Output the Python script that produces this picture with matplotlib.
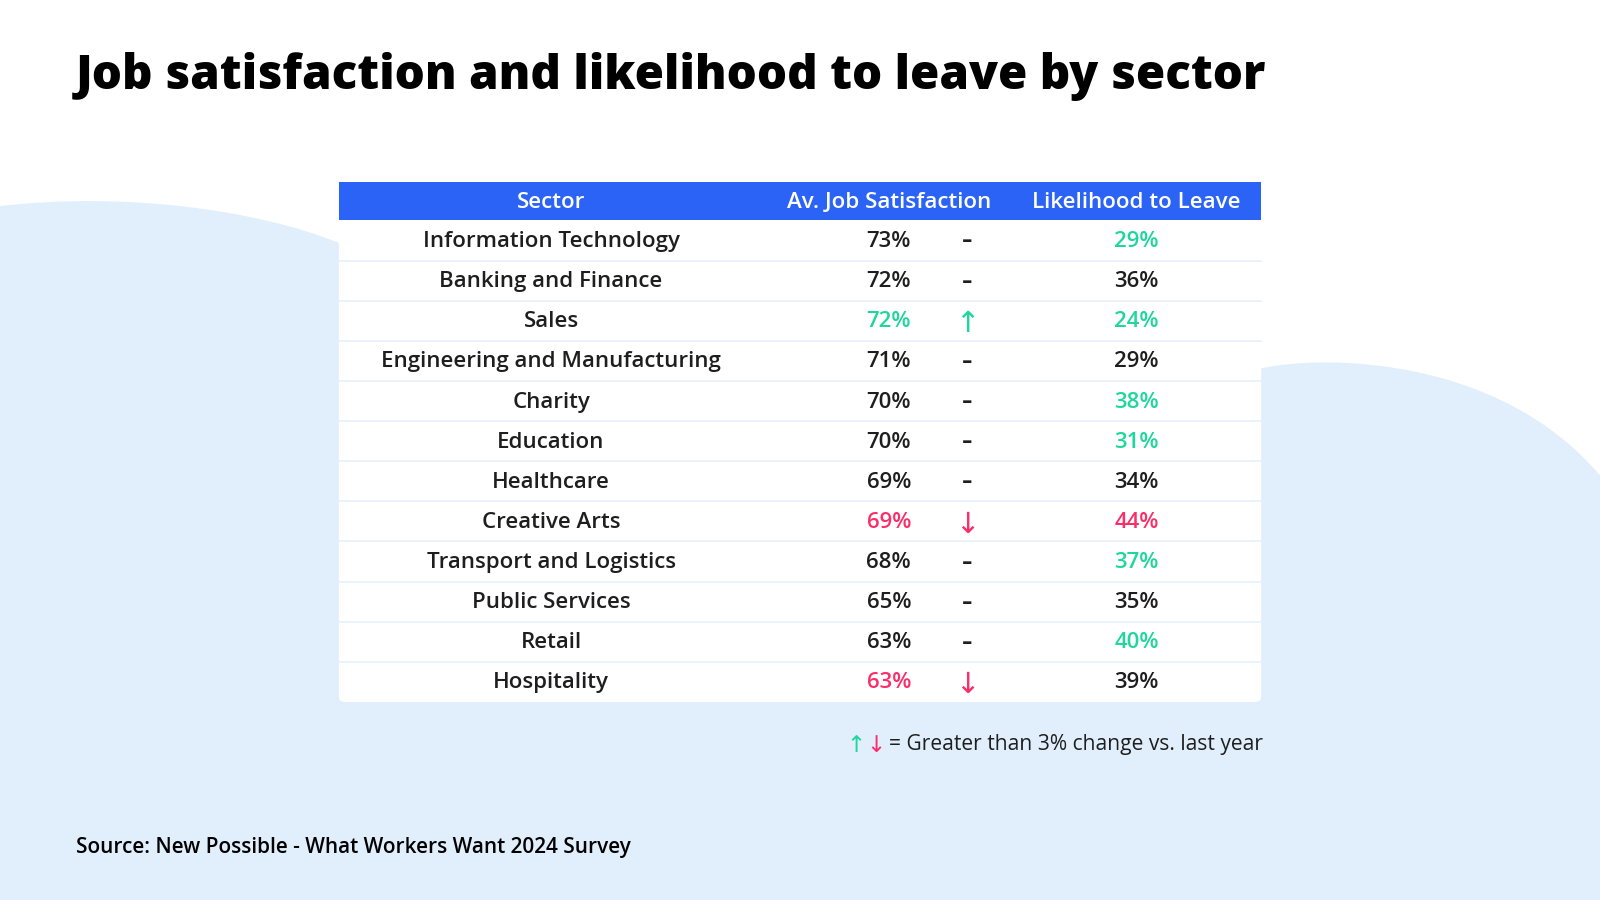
import numpy as np
import matplotlib
matplotlib.use("Agg")
import matplotlib.pyplot as plt
from matplotlib.path import Path
from matplotlib.patches import PathPatch, FancyBboxPatch, Rectangle

plt.rcParams["font.family"] = ["Open Sans", "DejaVu Sans"]

sectors = ["Information Technology", "Banking and Finance", "Sales",
           "Engineering and Manufacturing", "Charity", "Education", "Healthcare",
           "Creative Arts", "Transport and Logistics", "Public Services", "Retail",
           "Hospitality"]
satisfaction = [73, 72, 72, 71, 70, 70, 69, 69, 68, 65, 63, 63]
sat_trend = ["flat", "flat", "up", "flat", "flat", "flat", "flat", "down",
             "flat", "flat", "flat", "down"]
leave = [29, 36, 24, 29, 38, 31, 34, 44, 37, 35, 40, 39]
leave_trend = ["good", "flat", "good", "flat", "good", "good", "flat", "bad",
               "good", "flat", "good", "flat"]
headers = ["Sector", "Av. Job Satisfaction", "Likelihood to Leave"]

BLUE = "#2A63F6"
BG = "#E1EEFC"
GREEN = "#1FD69B"
RED = "#FB2E68"
INK = "#1E1E1E"
SEP = "#E6F0FC"
sat_col = {"up": GREEN, "down": RED, "flat": INK}
leave_col = {"good": GREEN, "bad": RED, "flat": INK}
sign = {"up": "\u2191", "down": "\u2193", "flat": "\u2013"}

W, H = 1568, 882
fig = plt.figure(figsize=(16, 9), dpi=100)
ax = fig.add_axes([0, 0, 1, 1])
ax.set_xlim(0, W); ax.set_ylim(H, 0); ax.axis("off")
rend = fig.canvas.get_renderer()


def scale_for(t, target):
    # factor that brings text t to the target width (in axes units)
    w = t.get_window_extent(rend).width * W / fig.bbox.width
    return target / w


# light blue background blob
verts = [(0, 202),
         (120, 188), (250, 205), (332, 238),      # left hump
         (700, 330),                                # under the table
         (1236, 361),
         (1300, 347), (1470, 350), (W, 466),       # right hump
         (W, H), (0, H), (0, 202)]
codes = ([Path.MOVETO] + [Path.CURVE4] * 3 + [Path.LINETO] * 2
         + [Path.CURVE4] * 3 + [Path.LINETO] * 2 + [Path.CLOSEPOLY])
ax.add_patch(PathPatch(Path(verts, codes), fc=BG, ec="none", zorder=0))

# table geometry
x0, x1 = 332, 1236
hy0, hy1, ty1 = 178, 216, 688
rh = (ty1 - hy1) / len(sectors)
cx_sector, cx_sat, cx_arrow, cx_leave = 540, 871, 948, 1114

ax.add_patch(FancyBboxPatch((x0, hy1), x1 - x0, ty1 - hy1,
                            boxstyle="round,pad=0,rounding_size=6",
                            fc="white", ec="none", zorder=1))
ax.add_patch(Rectangle((x0, hy1), x1 - x0, 20, fc="white", ec="none", zorder=1))
ax.add_patch(Rectangle((x0, hy0), x1 - x0, hy1 - hy0, fc=BLUE, ec="none", zorder=2))

hy = (hy0 + hy1) / 2
htexts = [ax.text(cx, hy + 1, h, color="white", fontsize=14, fontweight="semibold",
                  ha="center", va="center", zorder=3)
          for cx, h in zip([cx_sector, cx_sat, cx_leave], headers)]
k = scale_for(htexts[2], 206)
for t in htexts:
    t.set_fontsize(14 * k)

cells = []
for i, s in enumerate(sectors):
    yc = hy1 + rh * (i + 0.5)
    if i > 0:
        ax.plot([x0, x1], [hy1 + rh * i] * 2, color=SEP, lw=1.2, zorder=2)
    cells.append(ax.text(cx_sector, yc + 1, s, color=INK, fontsize=14,
                         fontweight="semibold", ha="center", va="center", zorder=3))
    cells.append(ax.text(cx_sat, yc + 1, f"{satisfaction[i]}%",
                         color=sat_col[sat_trend[i]], fontsize=14,
                         fontweight="semibold", ha="center", va="center", zorder=3))
    cells.append(ax.text(cx_leave, yc + 1, f"{leave[i]}%",
                         color=leave_col[leave_trend[i]], fontsize=14,
                         fontweight="semibold", ha="center", va="center", zorder=3))
    t = sat_trend[i]
    if t == "flat":
        ax.text(cx_arrow, yc + 1, sign[t], color=INK, fontsize=15, fontweight="heavy",
                family="DejaVu Sans", ha="center", va="center", zorder=3)
    else:
        ax.text(cx_arrow, yc + 3, sign[t], color=sat_col[t], fontsize=21,
                family="DejaVu Sans", ha="center", va="center", zorder=3)
k = scale_for(cells[0], 254)
for t in cells:
    t.set_fontsize(14 * k)

# legend note
note = ax.text(871, 735, "= Greater than 3% change vs. last year", color=INK,
               fontsize=13, fontweight="medium", ha="left", va="baseline", zorder=3)
note.set_fontsize(13 * scale_for(note, 365))
ax.text(839, 731, "\u2191", color=GREEN, fontsize=16.5, family="DejaVu Sans",
        ha="center", va="center", zorder=3)
ax.text(858, 731, "\u2193", color=RED, fontsize=16.5, family="DejaVu Sans",
        ha="center", va="center", zorder=3)

title = ax.text(74, 87, "Job satisfaction and likelihood to leave by sector",
                color="black", fontsize=33, fontweight="heavy", ha="left",
                va="baseline", zorder=3)
title.set_fontsize(33 * scale_for(title, 1166))
src = ax.text(74, 836, "Source: New Possible - What Workers Want 2024 Survey",
              color="black", fontsize=13, fontweight="semibold", ha="left",
              va="baseline", zorder=3)
src.set_fontsize(13 * scale_for(src, 543))

fig.savefig("out.png", dpi=100, facecolor="white")
